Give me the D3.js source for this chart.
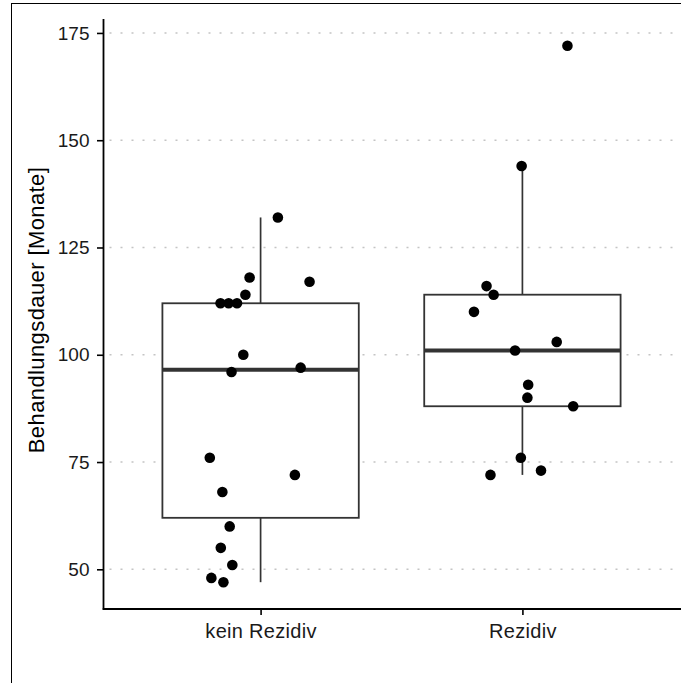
<!DOCTYPE html>
<html>
<head>
<meta charset="utf-8">
<script src="https://cdn.jsdelivr.net/npm/d3@7"></script>
<style>
  html, body { margin: 0; padding: 0; background: #fff; }
  svg { display: block; }
  text { font-family: "Liberation Sans", Arial, Helvetica, sans-serif; }
</style>
</head>
<body>
<script>
// ---- data ----
const categories = ["kein Rezidiv", "Rezidiv"];
const keinValues = [132, 118, 117, 114, 112, 112, 112, 100, 96, 97, 76, 72, 68, 60, 55, 51, 48, 47];
const keinJitter = [0.066, -0.042, 0.187, -0.058, -0.153, -0.122, -0.090, -0.066, -0.111, 0.153, -0.194, 0.131, -0.146, -0.118, -0.152, -0.108, -0.188, -0.142];
const rezValues = [172, 144, 116, 114, 110, 103, 101, 93, 90, 88, 76, 73, 72];
const rezJitter = [0.172, -0.003, -0.137, -0.110, -0.185, 0.131, -0.028, 0.022, 0.019, 0.194, -0.006, 0.071, -0.122];
const yTicks = [50, 75, 100, 125, 150, 175];
const yTitle = "Behandlungsdauer [Monate]";

const W = 681, H = 683;
const svg = d3.select("body").append("svg").attr("width", W).attr("height", H);

// outer frame
svg.append("rect").attr("x", 11.5).attr("y", 3.5).attr("width", 700).attr("height", 700)
  .attr("fill", "none").attr("stroke", "#000").attr("stroke-width", 1);

const panel = { left: 103.5, right: 679.5, top: 19, bottom: 609 };

const x = d3.scalePoint().domain(categories).range([panel.left, panel.right]).padding(0.6);
const y = d3.scaleLinear().domain([40.75, 178.25]).range([panel.bottom, panel.top]);

// grid
svg.append("g").selectAll("line").data(yTicks).join("line")
  .attr("x1", panel.left).attr("x2", panel.right)
  .attr("y1", d => y(d)).attr("y2", d => y(d))
  .attr("stroke", "#c4c4c4").attr("stroke-width", 1.6)
  .attr("stroke-dasharray", "2 9").attr("stroke-dashoffset", 5);

// box stats
function stats(arr) {
  const s = arr.slice().sort(d3.ascending);
  const q1 = d3.quantileSorted(s, 0.25), med = d3.quantileSorted(s, 0.5), q3 = d3.quantileSorted(s, 0.75);
  const iqr = q3 - q1;
  const lo = d3.min(s.filter(v => v >= q1 - 1.5 * iqr));
  const hi = d3.max(s.filter(v => v <= q3 + 1.5 * iqr));
  return { q1, med, q3, lo, hi };
}
const groups = [
  { cat: categories[0], values: keinValues, jitter: keinJitter },
  { cat: categories[1], values: rezValues, jitter: rezJitter }
];
const bw = x.step() * 0.75;
const boxColor = "#333333";

groups.forEach(g => {
  const st = stats(g.values);
  const cx = x(g.cat);
  const gg = svg.append("g");
  gg.append("line").attr("x1", cx).attr("x2", cx).attr("y1", y(st.q3)).attr("y2", y(st.hi))
    .attr("stroke", boxColor).attr("stroke-width", 1.7);
  gg.append("line").attr("x1", cx).attr("x2", cx).attr("y1", y(st.q1)).attr("y2", y(st.lo))
    .attr("stroke", boxColor).attr("stroke-width", 1.7);
  gg.append("rect").attr("x", cx - bw / 2).attr("y", y(st.q3))
    .attr("width", bw).attr("height", y(st.q1) - y(st.q3))
    .attr("fill", "#fff").attr("stroke", boxColor).attr("stroke-width", 1.8);
  gg.append("line").attr("x1", cx - bw / 2).attr("x2", cx + bw / 2)
    .attr("y1", y(st.med)).attr("y2", y(st.med))
    .attr("stroke", boxColor).attr("stroke-width", 4);
});

// points
groups.forEach(g => {
  svg.append("g").selectAll("circle").data(g.values.map((v, i) => ({ v, j: g.jitter[i] }))).join("circle")
    .attr("cx", d => x(g.cat) + d.j * x.step())
    .attr("cy", d => y(d.v))
    .attr("r", 5.3).attr("fill", "#000");
});

// axes
const yAxis = d3.axisLeft(y).tickValues(yTicks).tickSize(6.5).tickPadding(7.5);
const gy = svg.append("g").attr("transform", `translate(${panel.left},0)`).call(yAxis);
gy.select(".domain").remove();
gy.selectAll(".tick line").attr("stroke", "#000").attr("stroke-width", 1.6);
gy.selectAll(".tick text").attr("font-size", 19).attr("fill", "#1a1a1a")
  .attr("font-family", "'Liberation Sans', Arial, sans-serif");
svg.append("line").attr("x1", panel.left).attr("x2", panel.left)
  .attr("y1", panel.top).attr("y2", panel.bottom + 0.8)
  .attr("stroke", "#000").attr("stroke-width", 1.8);

const xAxis = d3.axisBottom(x).tickSize(6).tickPadding(9);
const gx = svg.append("g").attr("transform", `translate(0,${panel.bottom})`).call(xAxis);
gx.select(".domain").remove();
gx.selectAll(".tick line").attr("stroke", "#000").attr("stroke-width", 1.6);
gx.selectAll(".tick text").attr("font-size", 20).attr("fill", "#1a1a1a")
  .attr("letter-spacing", 0.3)
  .attr("font-family", "'Liberation Sans', Arial, sans-serif");
svg.append("line").attr("x1", panel.left - 0.8).attr("x2", panel.right + 2)
  .attr("y1", panel.bottom).attr("y2", panel.bottom)
  .attr("stroke", "#000").attr("stroke-width", 1.8);

// y title
svg.append("text").attr("transform", `translate(44,${(panel.top + panel.bottom) / 2 - 4}) rotate(-90)`)
  .attr("text-anchor", "middle").attr("font-size", 22).attr("fill", "#000")
  .attr("letter-spacing", 0.4)
  .text(yTitle);
</script>
</body>
</html>
